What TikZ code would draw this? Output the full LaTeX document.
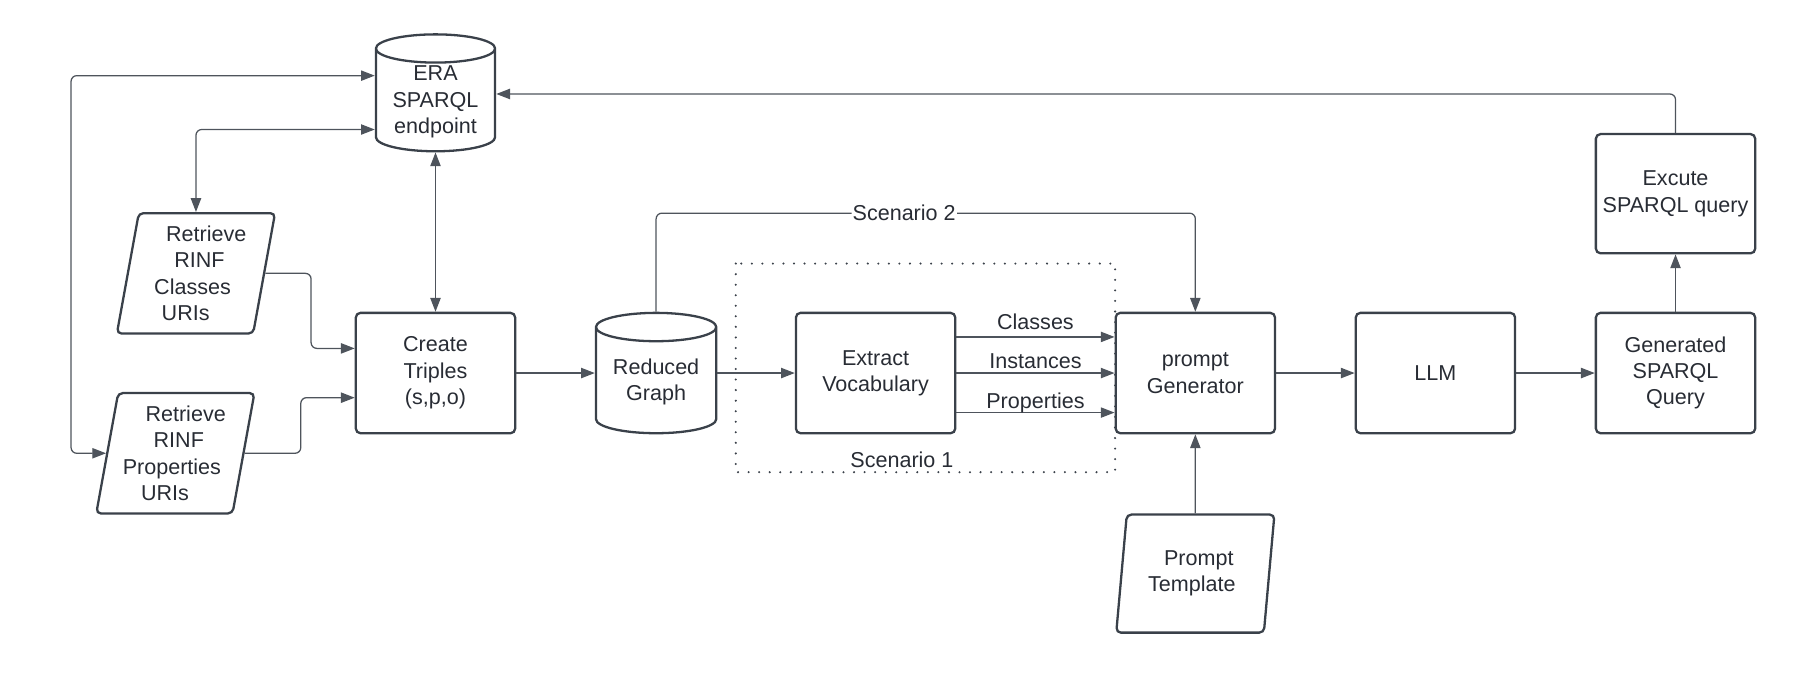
\documentclass[tikz,border=0pt]{standalone}
\usepackage{fontspec}
\setmainfont{Liberation Sans}
\usepackage{tikz}
\usetikzlibrary{arrows.meta,shapes.geometric}

\definecolor{boxcol}{RGB}{58,65,74}
\definecolor{linecol}{RGB}{78,84,92}
\definecolor{txtcol}{RGB}{40,44,52}

% shift one text line sideways, keeping its width
\newcommand{\slantline}[2]{\hbox{\kern#1\relax#2\kern-#1\relax}}

\tikzset{
  every node/.style={text=txtcol, font=\fontsize{18.8}{23}\selectfont},
  procbox/.style={draw=boxcol, line width=2pt, rounded corners=4pt, minimum width=139pt, minimum height=105pt, align=center},
  store/.style={cylinder, shape border rotate=90, aspect=0.32, draw=boxcol, line width=2pt, align=center, inner sep=1pt, anchor=shape center},
  iobox/.style={trapezium, trapezium left angle=77, trapezium right angle=103, trapezium stretches body, draw=boxcol, line width=2pt, rounded corners=4pt, minimum width=138pt, minimum height=105pt, align=center, inner sep=0pt},
  link/.style={draw=linecol, line width=1.1pt, rounded corners=5pt, -{Triangle[length=12pt,width=9pt]}},
  bilink/.style={link, {Triangle[length=12pt,width=9pt]}-{Triangle[length=12pt,width=9pt]}},
  scenbox/.style={draw=boxcol, line width=2pt, line cap=round, dash pattern=on 0pt off 9.2pt},
}

\begin{document}
\begin{tikzpicture}[x=1pt,y=1pt,yscale=-1,xscale=1]
        \useasboundingbox (0,0) rectangle (1568,589);

        %Shape: Can
        \node[store, minimum width=104pt, minimum height=102pt] (era) at (380,81) {ERA\\SPARQL\\endpoint};
        \node[store, minimum width=105pt, minimum height=105pt] (red) at (572.5,325.5) {Reduced\\Graph};
        %Shape: Parallelogram
        \node[iobox] (cls) at (171,238.5) {\slantline{9pt}{Retrieve}\\\slantline{3pt}{RINF}\\\slantline{-3pt}{Classes}\\\slantline{-9pt}{URIs}};
        \node[iobox] (prop) at (153,395.5) {\slantline{9pt}{Retrieve}\\\slantline{3pt}{RINF}\\\slantline{-3pt}{Properties}\\\slantline{-9pt}{URIs}};
        \node[iobox, minimum height=103pt] (tpl) at (1043,500.5) {\slantline{3pt}{Prompt}\\\slantline{-3pt}{Template}};
        %Rounded Rect
        \node[procbox] (crt) at (380,325.5) {Create\\Triples\\(s,p,o)};
        \node[procbox] (ext) at (764,325.5) {Extract\\Vocabulary};
        \node[procbox] (prm) at (1043,325.5) {prompt\\Generator};
        \node[procbox] (llm) at (1252.5,325.5) {LLM};
        \node[procbox] (gen) at (1462,325.5) {Generated\\SPARQL\\Query};
        \node[procbox, minimum height=104pt] (exe) at (1462,169) {Excute\\SPARQL query};

        %Dotted box
        \draw[scenbox] (642,230) rectangle (973,412);
        % Text Node
        \node (sc1) at (787,401) {Scenario 1};

        %Connectors
        \draw[bilink] (era.west |- 0,66) -| (62,0 |- prop.west) -- (prop.west);
        \draw[bilink] (era.west |- 0,113) -| (cls.north);
        \draw[link] (cls.east) -- ++(40,0) |- (crt.west |- 0,304);
        \draw[link] (prop.east) -- ++(49,0) |- (crt.west |- 0,347);
        \draw[bilink] (era.south) -- (crt.north);
        \draw[link] (crt.east) -- (crt.east -| red.west);
        \draw[link] (red.east |- ext.west) -- (ext.west);
        \draw[link] (red.north) |- node[pos=0.73, fill=white, inner sep=1pt] (sc2) {Scenario 2} (prm.north |- 0,186) -- (prm.north);
        \draw[link] (ext.east |- 0,294) -- node[above, inner sep=6pt] (lcls) {Classes} (prm.west |- 0,294);
        \draw[link] (ext.east) -- node[above, inner sep=3pt] (lins) {Instances} (prm.west);
        \draw[link] (ext.east |- 0,360) -- node[above=-3pt, inner sep=2pt] (lprp) {Properties} (prm.west |- 0,360);
        \draw[link] (tpl.north) -- (prm.south);
        \draw[link] (prm.east) -- (llm.west);
        \draw[link] (llm.east) -- (gen.west);
        \draw[link] (gen.north) -- (exe.south);
        \draw[link] (exe.north) |- (era.east |- 0,82);
\end{tikzpicture}
\end{document}
